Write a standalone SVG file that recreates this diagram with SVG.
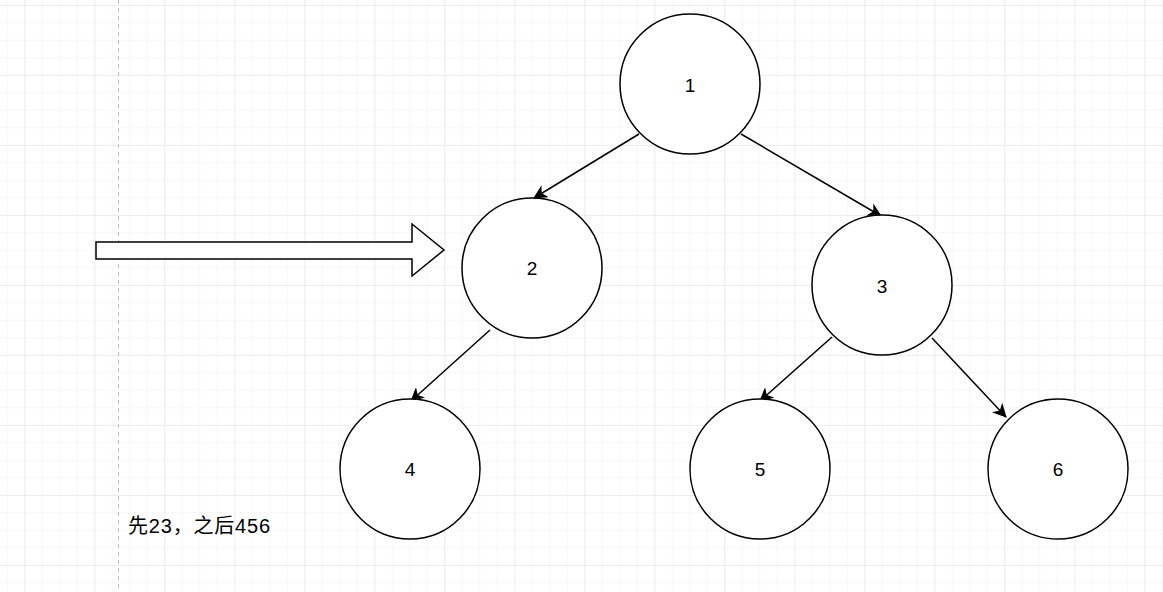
<svg xmlns="http://www.w3.org/2000/svg" width="1163" height="592" viewBox="0 0 1163 592">
<defs>
<pattern id="minor" x="6.8" y="4.8" width="17.5" height="17.5" patternUnits="userSpaceOnUse"><path d="M0 0H17.5M0 0V17.5" fill="none" stroke="#efefef" stroke-width="1"/></pattern>
<pattern id="major" x="24.3" y="5" width="70" height="70" patternUnits="userSpaceOnUse"><path d="M0 0H70M0 0V70" fill="none" stroke="#e2e2e2" stroke-width="1"/></pattern>
<marker id="ah" viewBox="0 0 14 14" refX="13" refY="7" markerWidth="14" markerHeight="14" markerUnits="userSpaceOnUse" orient="auto"><path d="M0 0L14 7L0 14L4 7Z" fill="#000"/></marker>
</defs>
<style>
.n{fill:#fff;stroke:#000;stroke-width:1.5}
.t{font-family:"Liberation Sans",Arial,sans-serif;font-size:19px;text-anchor:middle;dominant-baseline:central;fill:#000}
.e{stroke:#000;stroke-width:1.5;fill:none;marker-end:url(#ah)}
</style>
<rect width="1163" height="592" fill="#fff"/>
<rect width="1163" height="592" fill="url(#minor)"/>
<rect width="1163" height="592" fill="url(#major)"/>
<line x1="118.5" y1="0" x2="118.5" y2="592" stroke="#bbb" stroke-dasharray="4 4"/>
<g id="connectors">
<line class="e" x1="639" y1="134" x2="534" y2="198"/>
<line class="e" x1="741" y1="134" x2="881" y2="216"/>
<line class="e" x1="490" y1="330" x2="411" y2="401"/>
<line class="e" x1="832" y1="337" x2="760" y2="401"/>
<line class="e" x1="932" y1="338" x2="1006" y2="417"/>
</g>
<g id="bigarrow"><path d="M96 242H412V224L444 250L412 276V259H96Z" fill="#fff" stroke="#000" stroke-width="1.5"/></g>
<g id="n1"><circle class="n" cx="690" cy="84" r="70"/><text class="t" x="690" y="85">1</text></g>
<g id="n2"><circle class="n" cx="532" cy="268" r="70"/><text class="t" x="532" y="268">2</text></g>
<g id="n3"><circle class="n" cx="882" cy="285" r="70"/><text class="t" x="882" y="286">3</text></g>
<g id="n4"><circle class="n" cx="410" cy="469" r="70"/><text class="t" x="410" y="469">4</text></g>
<g id="n5"><circle class="n" cx="760" cy="469" r="70"/><text class="t" x="760" y="469">5</text></g>
<g id="n6"><circle class="n" cx="1058" cy="469" r="70"/><text class="t" x="1058" y="469">6</text></g>
<text x="128" y="533" font-family="'Liberation Sans','Noto Sans CJK SC',sans-serif" font-size="20" textLength="142" lengthAdjust="spacing">先23，之后456</text>
</svg>
